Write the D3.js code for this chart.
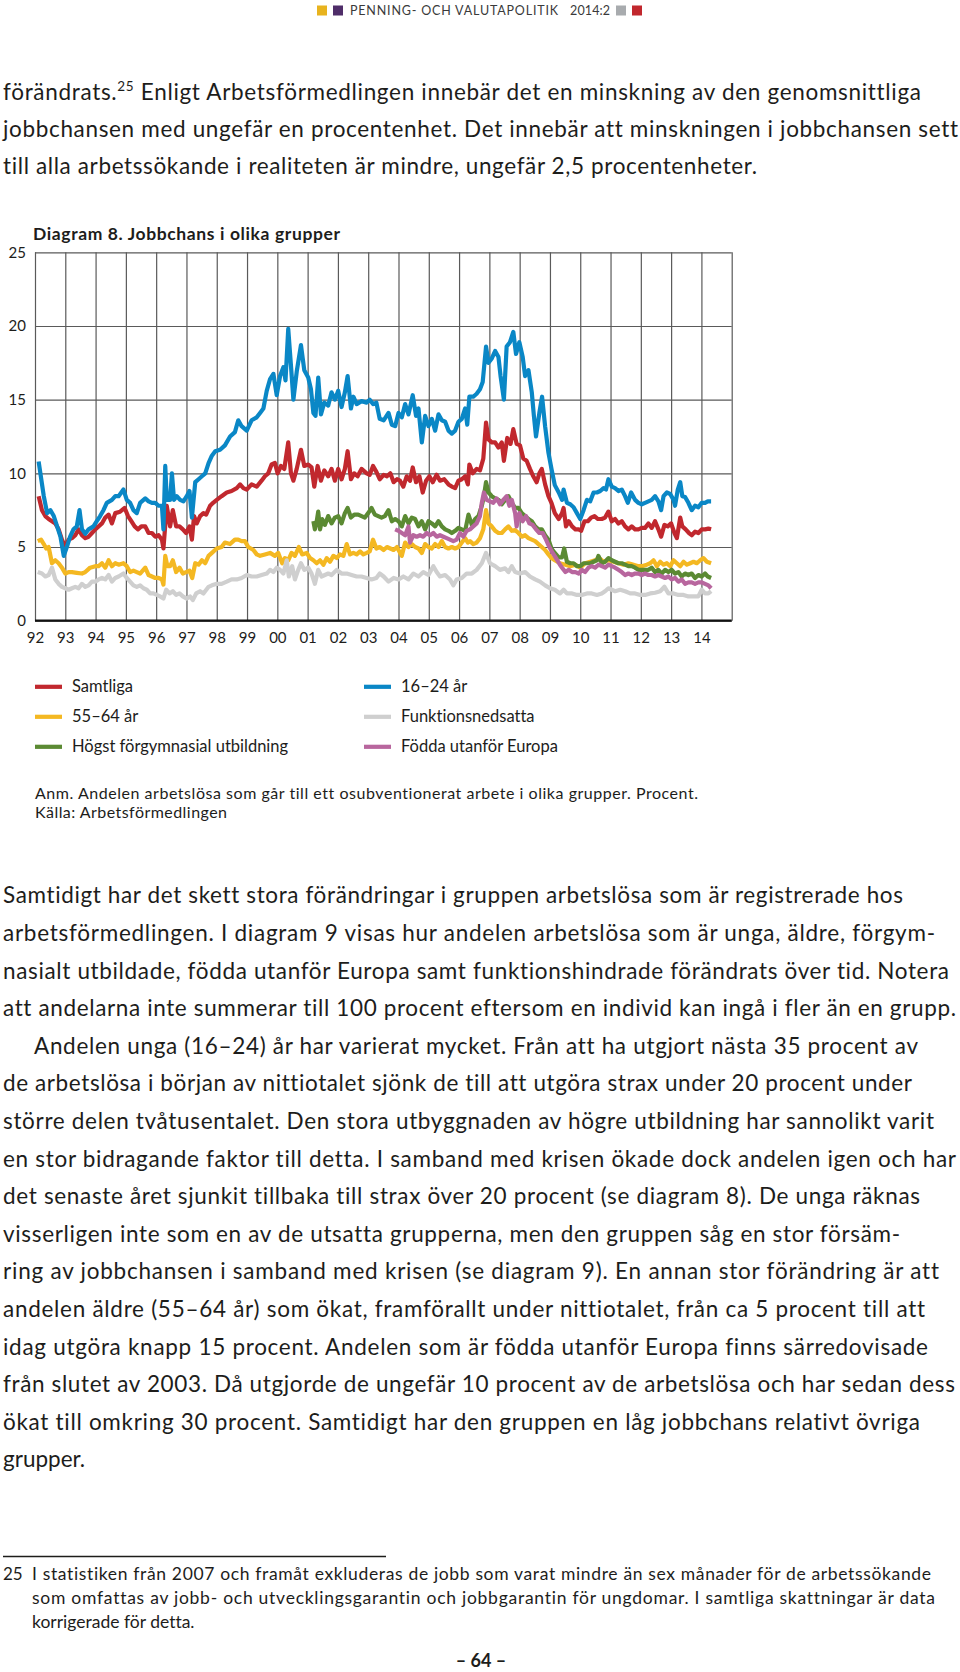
<!DOCTYPE html>
<html lang="sv">
<head>
<meta charset="UTF-8">
<title>Jobbchans i olika grupper</title>
<script src="https://cdn.jsdelivr.net/npm/d3@7"></script>
<style>
  body { margin: 0; background: #fff; }
  svg text {
    font-family: Lato, "Open Sans", sans-serif;
    fill: #1d1d1b;
    font-variant-ligatures: none;
    font-feature-settings: "liga" 0, "clig" 0, "dlig" 0;
  }
</style>
</head>
<body>
<div id="page"></div>
<script>
// ---- chart data (decimal year, percent) ----
const samtliga = [[1992.12,8.45],[1992.23,7.5],[1992.34,7.1],[1992.45,6.9],[1992.56,6.75],[1992.67,6.6],[1992.78,6.2],[1992.89,5.5],[1993.00,5.0],[1993.11,5.5],[1993.22,5.6],[1993.33,5.8],[1993.44,6.2],[1993.55,5.8],[1993.66,5.6],[1993.77,5.7],[1993.88,5.95],[1993.99,6.2],[1994.10,6.4],[1994.21,6.6],[1994.32,7.0],[1994.43,7.2],[1994.54,6.6],[1994.65,7.3],[1994.81,7.4],[1994.96,7.65],[1995.07,7.1],[1995.18,6.75],[1995.29,6.4],[1995.40,6.2],[1995.51,6.4],[1995.64,6.4],[1995.75,5.95],[1995.86,5.95],[1995.97,5.7],[1996.08,5.8],[1996.19,5.5],[1996.24,4.9],[1996.35,7.8],[1996.46,6.4],[1996.55,7.5],[1996.66,6.4],[1996.77,6.4],[1996.88,6.2],[1996.99,5.95],[1997.10,6.4],[1997.18,5.5],[1997.25,7.1],[1997.34,6.6],[1997.45,7.1],[1997.56,7.3],[1997.65,7.2],[1997.78,7.8],[1997.88,8.0],[1998.00,8.2],[1998.16,8.45],[1998.33,8.7],[1998.49,8.8],[1998.66,9.0],[1998.77,9.25],[1998.88,9.0],[1998.99,8.9],[1999.15,9.25],[1999.32,9.1],[1999.48,9.5],[1999.59,9.8],[1999.70,10.0],[1999.81,10.6],[1999.92,10.7],[2000.01,10.0],[2000.12,10.5],[2000.23,10.3],[2000.36,12.1],[2000.45,10.0],[2000.53,9.5],[2000.64,10.3],[2000.78,11.6],[2000.89,10.5],[2001.02,10.6],[2001.13,10.4],[2001.22,9.1],[2001.33,10.5],[2001.44,9.5],[2001.55,10.2],[2001.68,9.8],[2001.79,10.3],[2001.90,9.5],[2002.01,10.3],[2002.12,9.6],[2002.23,10.3],[2002.32,11.5],[2002.43,9.6],[2002.54,10.0],[2002.65,9.8],[2002.78,10.3],[2002.95,10.0],[2003.05,9.9],[2003.16,10.5],[2003.27,10.1],[2003.38,9.6],[2003.51,9.9],[2003.62,9.8],[2003.73,10.0],[2003.84,9.4],[2003.95,9.6],[2004.05,9.5],[2004.16,9.1],[2004.27,9.8],[2004.38,9.5],[2004.47,10.4],[2004.58,9.4],[2004.69,9.8],[2004.80,8.7],[2004.91,9.5],[2005.02,9.8],[2005.13,9.4],[2005.26,9.9],[2005.37,9.5],[2005.51,9.6],[2005.65,9.25],[2005.76,9.1],[2005.87,9.0],[2005.98,9.5],[2006.09,9.6],[2006.20,9.8],[2006.29,9.25],[2006.34,10.6],[2006.45,10.0],[2006.58,10.3],[2006.69,10.2],[2006.80,11.0],[2006.89,13.45],[2006.97,12.3],[2007.08,12.1],[2007.19,12.1],[2007.30,11.75],[2007.41,12.1],[2007.48,10.85],[2007.59,12.4],[2007.70,12.0],[2007.79,13.0],[2007.90,12.0],[2008.01,11.9],[2008.12,11.0],[2008.23,10.85],[2008.34,10.3],[2008.45,9.8],[2008.56,9.4],[2008.65,10.0],[2008.73,10.3],[2008.84,9.25],[2008.95,8.45],[2009.05,8.0],[2009.16,7.3],[2009.29,6.9],[2009.40,7.3],[2009.45,7.65],[2009.53,6.4],[2009.62,6.75],[2009.73,6.4],[2009.84,6.2],[2009.95,6.2],[2010.03,6.1],[2010.14,6.75],[2010.25,6.75],[2010.36,7.0],[2010.47,7.1],[2010.58,6.9],[2010.71,6.9],[2010.82,7.0],[2010.93,7.4],[2011.04,6.75],[2011.15,6.9],[2011.26,6.6],[2011.37,6.75],[2011.48,6.4],[2011.59,6.2],[2011.70,6.4],[2011.81,6.2],[2011.92,6.2],[2012.03,6.3],[2012.14,6.3],[2012.25,6.6],[2012.36,6.3],[2012.47,6.75],[2012.58,6.2],[2012.67,5.7],[2012.78,6.5],[2012.89,6.4],[2013.00,6.6],[2013.11,5.95],[2013.19,5.6],[2013.30,7.0],[2013.37,6.4],[2013.48,6.2],[2013.59,5.95],[2013.68,5.8],[2013.79,6.05],[2013.90,5.95],[2014.01,6.2],[2014.12,6.2],[2014.23,6.25],[2014.32,6.2]];

const unga = [[1992.12,10.8],[1992.29,8.45],[1992.40,7.3],[1992.51,7.5],[1992.62,7.1],[1992.73,6.4],[1992.84,5.7],[1992.95,4.4],[1993.05,5.0],[1993.16,5.7],[1993.27,6.2],[1993.38,6.4],[1993.47,7.5],[1993.55,6.2],[1993.66,5.9],[1993.77,6.2],[1993.93,6.4],[1994.04,6.75],[1994.15,7.1],[1994.26,7.5],[1994.37,8.0],[1994.54,8.2],[1994.65,8.45],[1994.76,8.45],[1994.92,8.9],[1995.03,8.2],[1995.14,8.0],[1995.25,7.5],[1995.36,7.3],[1995.47,8.0],[1995.64,8.3],[1995.75,8.1],[1995.86,8.0],[1995.97,8.0],[1996.08,7.8],[1996.19,7.8],[1996.24,6.2],[1996.30,10.5],[1996.35,8.2],[1996.46,8.2],[1996.52,10.0],[1996.59,8.2],[1996.68,8.45],[1996.79,8.2],[1996.90,8.1],[1997.01,8.45],[1997.10,8.8],[1997.18,7.0],[1997.29,9.4],[1997.40,9.6],[1997.51,9.8],[1997.62,10.0],[1997.73,10.7],[1997.84,11.2],[1997.95,11.5],[1998.11,11.6],[1998.27,11.9],[1998.44,12.5],[1998.60,12.8],[1998.71,13.6],[1998.82,13.2],[1998.99,12.9],[1999.15,13.6],[1999.32,13.8],[1999.43,14.1],[1999.54,14.4],[1999.65,15.6],[1999.76,16.4],[1999.87,16.75],[1999.98,15.3],[2000.09,16.6],[2000.20,17.2],[2000.27,16.3],[2000.36,19.8],[2000.45,17.3],[2000.53,15.0],[2000.64,16.9],[2000.78,18.7],[2000.89,17.0],[2001.02,16.5],[2001.11,15.7],[2001.19,14.1],[2001.26,13.9],[2001.35,16.5],[2001.44,14.0],[2001.55,14.8],[2001.68,14.6],[2001.79,15.5],[2001.90,15.0],[2002.01,15.6],[2002.12,14.5],[2002.23,15.5],[2002.32,16.6],[2002.43,14.4],[2002.51,15.2],[2002.62,14.7],[2002.78,14.9],[2002.95,14.8],[2003.05,15.0],[2003.16,14.7],[2003.27,14.8],[2003.38,13.7],[2003.51,13.6],[2003.67,14.1],[2003.78,13.3],[2003.89,13.2],[2004.00,14.1],[2004.11,13.8],[2004.22,14.7],[2004.33,14.0],[2004.47,15.3],[2004.58,13.9],[2004.66,14.4],[2004.77,12.1],[2004.88,13.9],[2004.99,13.2],[2005.10,13.7],[2005.21,12.9],[2005.32,14.0],[2005.43,13.6],[2005.54,13.5],[2005.65,12.9],[2005.76,12.7],[2005.87,12.9],[2005.98,13.5],[2006.09,13.7],[2006.20,14.4],[2006.27,13.3],[2006.34,15.2],[2006.47,15.2],[2006.58,15.4],[2006.69,15.7],[2006.78,16.2],[2006.89,18.6],[2006.97,17.5],[2007.08,17.8],[2007.19,18.3],[2007.30,17.9],[2007.37,16.6],[2007.48,15.0],[2007.57,18.6],[2007.68,18.9],[2007.79,19.6],[2007.88,18.1],[2007.99,18.9],[2008.10,17.9],[2008.18,16.6],[2008.29,17.0],[2008.40,15.5],[2008.47,13.9],[2008.54,12.5],[2008.65,14.1],[2008.74,15.2],[2008.84,13.2],[2008.95,11.4],[2009.05,10.3],[2009.16,9.2],[2009.29,8.7],[2009.40,8.2],[2009.45,8.9],[2009.56,8.0],[2009.67,7.9],[2009.78,7.7],[2009.89,7.3],[2010.00,6.9],[2010.11,7.5],[2010.22,8.2],[2010.33,8.1],[2010.44,8.7],[2010.55,8.7],[2010.66,8.8],[2010.77,9.0],[2010.85,8.9],[2010.93,9.6],[2011.04,9.1],[2011.15,9.0],[2011.26,8.8],[2011.37,8.9],[2011.48,8.45],[2011.57,8.0],[2011.68,8.7],[2011.81,8.2],[2011.92,8.0],[2012.03,7.9],[2012.14,8.0],[2012.25,8.1],[2012.36,8.2],[2012.47,8.45],[2012.58,8.1],[2012.67,7.5],[2012.75,8.45],[2012.86,8.7],[2012.97,8.6],[2013.08,8.2],[2013.13,7.8],[2013.22,8.9],[2013.30,9.4],[2013.37,8.45],[2013.46,8.4],[2013.57,8.0],[2013.68,7.5],[2013.79,7.8],[2013.90,7.7],[2014.01,8.0],[2014.12,8.0],[2014.21,8.1],[2014.32,8.1]];

const aldre = [[1992.09,5.4],[1992.20,5.5],[1992.29,5.2],[1992.37,4.9],[1992.45,5.0],[1992.56,3.9],[1992.67,4.1],[1992.78,3.9],[1992.89,3.6],[1993.00,3.2],[1993.11,3.3],[1993.22,3.3],[1993.38,3.25],[1993.55,3.2],[1993.66,3.3],[1993.82,3.6],[1993.99,3.7],[1994.10,3.7],[1994.21,3.9],[1994.32,3.6],[1994.43,4.1],[1994.54,3.7],[1994.65,3.9],[1994.76,3.8],[1994.92,3.9],[1995.03,3.7],[1995.14,3.3],[1995.25,3.4],[1995.36,3.3],[1995.47,3.2],[1995.64,3.6],[1995.75,3.1],[1995.86,3.0],[1995.97,2.9],[1996.08,2.9],[1996.19,2.8],[1996.24,2.45],[1996.30,4.4],[1996.37,3.7],[1996.46,3.7],[1996.55,4.1],[1996.66,3.3],[1996.77,3.6],[1996.88,3.2],[1996.99,3.3],[1997.10,3.4],[1997.19,2.9],[1997.29,3.9],[1997.40,3.8],[1997.51,4.1],[1997.62,3.9],[1997.73,4.4],[1997.84,4.6],[1998.00,4.9],[1998.16,5.0],[1998.27,5.3],[1998.44,5.2],[1998.60,5.5],[1998.71,5.5],[1998.82,5.4],[1998.93,5.4],[1999.04,5.0],[1999.21,4.8],[1999.32,4.5],[1999.43,4.4],[1999.59,4.5],[1999.76,4.6],[1999.92,4.4],[2000.03,4.6],[2000.16,3.9],[2000.25,4.25],[2000.36,4.1],[2000.47,4.6],[2000.58,4.4],[2000.71,5.0],[2000.82,4.5],[2000.97,4.6],[2001.08,4.25],[2001.19,4.1],[2001.30,3.9],[2001.41,4.1],[2001.52,3.8],[2001.63,4.25],[2001.74,4.0],[2001.85,4.4],[2001.96,4.25],[2002.07,4.5],[2002.18,4.4],[2002.29,5.2],[2002.40,4.5],[2002.51,4.6],[2002.62,4.5],[2002.73,4.7],[2002.84,4.5],[2002.95,4.6],[2003.05,4.7],[2003.16,5.5],[2003.27,4.9],[2003.38,5.0],[2003.51,4.8],[2003.62,5.0],[2003.73,4.9],[2003.84,4.8],[2003.95,5.0],[2004.05,4.6],[2004.11,4.4],[2004.22,5.3],[2004.33,5.0],[2004.44,5.2],[2004.55,5.0],[2004.66,4.9],[2004.77,4.6],[2004.88,5.2],[2004.99,5.0],[2005.10,4.9],[2005.21,5.2],[2005.32,5.0],[2005.43,5.4],[2005.54,5.0],[2005.65,4.9],[2005.76,5.0],[2005.87,4.9],[2005.98,5.0],[2006.09,5.3],[2006.20,5.6],[2006.29,5.3],[2006.36,5.4],[2006.47,5.2],[2006.58,5.3],[2006.69,5.6],[2006.80,6.2],[2006.89,7.5],[2006.97,6.6],[2007.08,6.4],[2007.19,6.1],[2007.30,5.95],[2007.41,5.95],[2007.52,6.2],[2007.63,6.4],[2007.74,6.1],[2007.85,6.15],[2007.96,5.95],[2008.07,5.7],[2008.18,5.8],[2008.29,5.6],[2008.40,5.5],[2008.51,5.4],[2008.62,5.2],[2008.73,5.0],[2008.84,4.8],[2008.95,4.5],[2009.05,4.25],[2009.16,4.1],[2009.33,3.9],[2009.51,3.8],[2009.67,3.7],[2009.84,3.8],[2010.00,3.6],[2010.16,3.9],[2010.33,4.0],[2010.49,4.1],[2010.63,4.25],[2010.77,4.0],[2010.93,4.1],[2011.10,4.0],[2011.26,3.9],[2011.43,3.8],[2011.59,3.9],[2011.76,3.8],[2011.92,3.7],[2012.03,3.7],[2012.20,3.8],[2012.31,3.9],[2012.42,4.1],[2012.53,3.7],[2012.64,4.0],[2012.75,3.8],[2012.86,3.9],[2012.97,3.7],[2013.08,4.1],[2013.19,3.9],[2013.30,3.7],[2013.41,4.0],[2013.52,3.8],[2013.63,3.9],[2013.74,4.0],[2013.85,3.9],[2013.96,4.1],[2014.07,4.25],[2014.18,4.0],[2014.32,3.9]];

const funktion = [[1992.09,3.3],[1992.23,3.2],[1992.34,3.0],[1992.45,3.1],[1992.56,3.6],[1992.67,2.8],[1992.78,2.5],[1992.89,2.3],[1993.00,2.2],[1993.11,2.1],[1993.22,2.2],[1993.33,2.3],[1993.44,2.2],[1993.55,2.5],[1993.66,2.3],[1993.77,2.4],[1993.88,2.65],[1993.99,2.65],[1994.10,2.8],[1994.21,2.9],[1994.32,2.8],[1994.43,3.1],[1994.54,2.65],[1994.65,2.9],[1994.76,3.0],[1994.92,3.2],[1995.03,2.9],[1995.14,2.65],[1995.25,2.4],[1995.36,2.3],[1995.47,2.4],[1995.58,2.2],[1995.69,2.1],[1995.80,1.85],[1995.91,1.85],[1996.02,1.75],[1996.13,1.65],[1996.24,1.5],[1996.33,2.1],[1996.44,1.85],[1996.55,2.0],[1996.66,1.75],[1996.77,1.85],[1996.88,1.65],[1997.01,1.5],[1997.12,1.65],[1997.21,1.4],[1997.32,1.85],[1997.45,2.0],[1997.56,1.85],[1997.73,2.3],[1997.84,2.4],[1998.00,2.5],[1998.16,2.5],[1998.33,2.65],[1998.49,2.8],[1998.66,2.8],[1998.82,2.9],[1998.99,3.1],[1999.15,3.0],[1999.32,3.0],[1999.48,3.1],[1999.65,3.2],[1999.76,3.45],[1999.87,3.3],[1999.98,3.6],[2000.09,3.45],[2000.20,3.2],[2000.31,4.1],[2000.38,3.0],[2000.49,3.7],[2000.58,2.8],[2000.69,3.45],[2000.78,3.9],[2000.89,3.45],[2001.02,3.6],[2001.13,3.2],[2001.24,2.5],[2001.35,3.45],[2001.46,3.0],[2001.57,3.1],[2001.68,3.2],[2001.79,3.1],[2001.96,3.45],[2002.12,3.2],[2002.29,3.2],[2002.45,3.1],[2002.62,3.0],[2002.78,3.0],[2002.95,2.9],[2003.11,2.8],[2003.27,2.9],[2003.38,3.2],[2003.51,3.0],[2003.67,2.65],[2003.84,2.9],[2004.00,2.8],[2004.16,3.0],[2004.33,2.8],[2004.49,3.2],[2004.66,3.0],[2004.82,3.3],[2004.99,3.1],[2005.15,3.7],[2005.26,3.3],[2005.37,3.0],[2005.54,3.1],[2005.70,2.8],[2005.81,2.4],[2005.92,2.8],[2006.09,2.9],[2006.25,3.2],[2006.42,3.2],[2006.58,3.45],[2006.75,3.9],[2006.89,4.6],[2007.02,3.9],[2007.19,3.7],[2007.35,3.45],[2007.52,3.55],[2007.63,3.3],[2007.74,3.7],[2007.85,3.3],[2008.01,3.2],[2008.18,3.3],[2008.34,3.0],[2008.51,2.8],[2008.67,2.65],[2008.84,2.4],[2009.00,2.2],[2009.16,2.1],[2009.33,1.85],[2009.45,2.1],[2009.56,1.85],[2009.73,1.85],[2009.89,1.75],[2010.05,1.75],[2010.22,1.85],[2010.38,1.85],[2010.55,1.75],[2010.71,1.85],[2010.82,2.0],[2010.93,2.2],[2011.04,2.1],[2011.15,2.0],[2011.32,2.1],[2011.48,2.0],[2011.65,1.85],[2011.81,1.85],[2011.98,1.75],[2012.14,1.75],[2012.31,1.85],[2012.47,1.9],[2012.64,2.0],[2012.78,2.3],[2012.91,1.85],[2013.08,1.85],[2013.24,1.75],[2013.41,1.75],[2013.57,1.65],[2013.74,1.65],[2013.90,1.65],[2014.01,2.1],[2014.12,1.85],[2014.23,1.85],[2014.32,2.0]];

const forgymnasial = [[2001.19,6.75],[2001.24,6.2],[2001.30,6.75],[2001.35,7.4],[2001.41,6.2],[2001.48,6.9],[2001.57,6.5],[2001.68,7.1],[2001.79,6.6],[2001.90,7.0],[2002.01,7.1],[2002.12,6.6],[2002.23,7.3],[2002.32,7.65],[2002.43,7.0],[2002.54,7.2],[2002.67,7.2],[2002.78,7.1],[2002.89,7.0],[2003.00,7.3],[2003.11,7.65],[2003.22,7.2],[2003.33,7.1],[2003.44,7.0],[2003.55,7.1],[2003.67,7.5],[2003.78,6.75],[2003.89,6.9],[2004.00,6.75],[2004.11,6.4],[2004.22,7.1],[2004.33,6.6],[2004.44,7.0],[2004.55,6.9],[2004.66,6.4],[2004.77,6.75],[2004.88,6.2],[2004.99,6.75],[2005.10,6.6],[2005.21,6.4],[2005.32,6.75],[2005.43,6.4],[2005.54,6.2],[2005.65,6.1],[2005.76,5.95],[2005.87,6.1],[2005.98,6.3],[2006.09,6.2],[2006.20,6.1],[2006.31,7.2],[2006.42,6.5],[2006.53,6.9],[2006.64,7.1],[2006.75,7.8],[2006.82,8.45],[2006.89,9.4],[2006.97,8.7],[2007.08,8.45],[2007.19,8.3],[2007.30,8.2],[2007.41,7.9],[2007.52,8.2],[2007.63,8.45],[2007.74,8.0],[2007.85,7.65],[2007.96,7.65],[2008.07,7.3],[2008.18,7.1],[2008.29,6.9],[2008.40,6.75],[2008.51,6.4],[2008.62,6.2],[2008.73,6.2],[2008.84,5.8],[2008.95,5.5],[2009.05,4.9],[2009.16,4.6],[2009.29,4.3],[2009.40,4.3],[2009.47,4.9],[2009.56,4.0],[2009.67,3.9],[2009.78,3.9],[2009.89,3.7],[2010.00,3.7],[2010.11,3.9],[2010.22,3.9],[2010.33,3.9],[2010.44,4.0],[2010.55,4.1],[2010.60,4.4],[2010.71,3.9],[2010.82,4.0],[2010.93,4.25],[2011.04,4.1],[2011.15,4.0],[2011.26,3.9],[2011.37,3.9],[2011.48,3.8],[2011.59,3.7],[2011.70,3.7],[2011.81,3.6],[2011.92,3.45],[2012.03,3.45],[2012.14,3.45],[2012.25,3.45],[2012.36,3.6],[2012.47,3.3],[2012.58,3.45],[2012.69,3.2],[2012.80,3.45],[2012.91,3.3],[2013.02,3.45],[2013.13,3.2],[2013.24,3.3],[2013.35,3.0],[2013.46,3.2],[2013.57,3.1],[2013.68,3.2],[2013.79,2.9],[2013.90,3.1],[2014.01,3.0],[2014.12,3.2],[2014.21,3.0],[2014.32,2.9]];

const foddaUtanfor = [[2003.89,6.2],[2004.00,6.1],[2004.11,5.95],[2004.22,5.8],[2004.33,6.4],[2004.38,5.3],[2004.49,5.8],[2004.60,5.7],[2004.71,5.8],[2004.82,5.7],[2004.93,5.95],[2005.04,5.8],[2005.15,5.95],[2005.26,5.7],[2005.37,5.8],[2005.48,5.7],[2005.59,5.6],[2005.70,5.5],[2005.81,5.4],[2005.92,5.5],[2006.03,5.95],[2006.14,5.7],[2006.25,6.1],[2006.36,6.2],[2006.47,6.4],[2006.58,6.6],[2006.69,7.1],[2006.75,8.0],[2006.82,8.7],[2006.91,8.2],[2007.02,8.1],[2007.13,8.0],[2007.24,8.3],[2007.35,7.9],[2007.46,8.2],[2007.57,8.45],[2007.66,7.8],[2007.74,8.2],[2007.85,7.3],[2007.90,6.4],[2007.99,7.3],[2008.10,6.75],[2008.21,7.1],[2008.32,6.6],[2008.43,6.5],[2008.54,6.2],[2008.65,5.95],[2008.76,5.95],[2008.87,5.5],[2008.98,5.0],[2009.09,4.6],[2009.20,4.25],[2009.33,3.8],[2009.40,3.6],[2009.51,3.3],[2009.62,3.45],[2009.73,3.3],[2009.84,3.3],[2009.95,3.2],[2010.05,3.45],[2010.16,3.3],[2010.27,3.6],[2010.38,3.7],[2010.49,3.6],[2010.60,3.8],[2010.71,3.7],[2010.82,3.6],[2010.93,3.8],[2011.04,3.7],[2011.15,3.6],[2011.26,3.45],[2011.37,3.3],[2011.48,3.1],[2011.59,3.2],[2011.70,3.1],[2011.81,3.2],[2011.92,3.2],[2012.03,3.1],[2012.14,3.2],[2012.25,3.1],[2012.36,3.1],[2012.47,3.0],[2012.58,3.1],[2012.69,3.0],[2012.80,2.9],[2012.91,3.0],[2013.02,2.8],[2013.13,2.9],[2013.24,2.65],[2013.35,2.8],[2013.46,2.5],[2013.57,2.6],[2013.68,2.6],[2013.79,2.5],[2013.90,2.6],[2014.01,2.6],[2014.12,2.5],[2014.23,2.4],[2014.32,2.2]];

const seriesLabels = ["Samtliga", "16–24 år", "55–64 år", "Funktionsnedsatta", "Högst förgymnasial utbildning", "Födda utanför Europa"];
const seriesData = [samtliga, unga, aldre, funktion, forgymnasial, foddaUtanfor];
const seriesColors = ["#c1282e", "#0a87c6", "#f4b822", "#cfcfcf", "#5b8a33", "#b8669e"];

const xTickYears = d3.range(1992, 2015);
const xTickLabels = ["92","93","94","95","96","97","98","99","00","01","02","03","04","05","06","07","08","09","10","11","12","13","14"];
const yTicks = [0, 5, 10, 15, 20, 25];

// ---- page text ----
const para1 = [
  ["förändrats.|25| Enligt Arbetsförmedlingen innebär det en minskning av den genomsnittliga", 921],
  ["jobbchansen med ungefär en procentenhet. Det innebär att minskningen i jobbchansen sett", 958],
  ["till alla arbetssökande i realiteten är mindre, ungefär 2,5 procentenheter.", 757]
];
const para2 = [
  ["Samtidigt har det skett stora förändringar i gruppen arbetslösa som är registrerade hos", 903],
  ["arbetsförmedlingen. I diagram 9 visas hur andelen arbetslösa som är unga, äldre, förgym-", 935],
  ["nasialt utbildade, födda utanför Europa samt funktionshindrade förändrats över tid. Notera", 949],
  ["att andelarna inte summerar till 100 procent eftersom en individ kan ingå i fler än en grupp.", 956],
  ["Andelen unga (16–24) år har varierat mycket. Från att ha utgjort nästa 35 procent av", 918],
  ["de arbetslösa i början av nittiotalet sjönk de till att utgöra strax under 20 procent under", 912],
  ["större delen tvåtusentalet. Den stora utbyggnaden av högre utbildning har sannolikt varit", 934],
  ["en stor bidragande faktor till detta. I samband med krisen ökade dock andelen igen och har", 956],
  ["det senaste året sjunkit tillbaka till strax över 20 procent (se diagram 8). De unga räknas", 920],
  ["visserligen inte som en av de utsatta grupperna, men den gruppen såg en stor försäm-", 900],
  ["ring av jobbchansen i samband med krisen (se diagram 9). En annan stor förändring är att", 939],
  ["andelen äldre (55–64 år) som ökat, framförallt under nittiotalet, från ca 5 procent till att", 925],
  ["idag utgöra knapp 15 procent. Andelen som är födda utanför Europa finns särredovisade", 928],
  ["från slutet av 2003. Då utgjorde de ungefär 10 procent av de arbetslösa och har sedan dess", 955],
  ["ökat till omkring 30 procent. Samtidigt har den gruppen en låg jobbchans relativt övriga", 920],
  ["grupper.", null]
];
const footnote = [
  ["I statistiken från 2007 och framåt exkluderas de jobb som varat mindre än sex månader för de arbetssökande", 931],
  ["som omfattas av jobb- och utvecklingsgarantin och jobbgarantin för ungdomar. I samtliga skattningar är data", 935],
  ["korrigerade för detta.", null]
];

const width = 960, height = 1672;
const svg = d3.select("#page").append("svg")
    .attr("width", width)
    .attr("height", height);
svg.append("rect").attr("width", width).attr("height", height).attr("fill", "#fff");

// write one line, stretched (spacing only) so it ends where the original does
function line(g, x, y, str, size, right, weight) {
    const t = g.append("text")
        .attr("x", x).attr("y", y)
        .attr("font-size", size)
        .attr("font-weight", weight || 400);
    str.split("|").forEach(function (part, i) {
        if (i === 1) {
            t.append("tspan").attr("font-size", size * 0.6).attr("dy", -size * 0.38).text(part);
        } else if (i === 2) {
            t.append("tspan").attr("dy", size * 0.38).text(part);
        } else {
            t.append("tspan").text(part);
        }
    });
    if (right) {
        t.attr("textLength", right - x).attr("lengthAdjust", "spacing");
    }
    return t;
}

// header
const head = svg.append("g");
[["#e8b31e", 317], ["#4f2d69", 333], ["#a8abae", 616], ["#c1272d", 632]].forEach(function (sq) {
    head.append("rect").attr("x", sq[1]).attr("y", 5.5).attr("width", 10).attr("height", 10).attr("fill", sq[0]);
});
line(head, 350, 15, "PENNING- OCH VALUTAPOLITIK", 12.5, 558).style("fill", "#3a3a3a");
line(head, 570, 15, "2014:2", 12.5, 610).style("fill", "#3a3a3a");

// paragraph 1
para1.forEach(function (d, i) {
    line(svg, 3, 100 + i * 36.9, d[0], 22.5, d[1]);
});

// ---- chart ----
const x = d3.scaleLinear().domain([1992, 2015]).range([35, 731.7]);
const y = d3.scaleLinear().domain([0, 25]).range([620.7, 252.3]);

line(svg, 33, 240, "Diagram 8. Jobbchans i olika grupper", 17.5, 340, 700);

const plotH = y(0) - y(25), plotW = x(2015) - x(1992);

svg.append("g")
    .attr("class", "grid")
    .attr("transform", "translate(0," + y(0) + ")")
    .call(d3.axisBottom(x).tickValues(d3.range(1992, 2016)).tickSize(-plotH).tickFormat(""))
    .call(function (g) { g.select(".domain").remove(); });

svg.append("g")
    .attr("class", "grid ylab")
    .attr("transform", "translate(" + x(1992) + ",0)")
    .call(d3.axisLeft(y).tickValues(yTicks).tickSize(-plotW).tickPadding(9))
    .call(function (g) { g.select(".domain").remove(); });

svg.selectAll(".grid line").attr("stroke", "#5a5a5a").attr("stroke-width", 1.2);
svg.selectAll(".ylab text").attr("font-size", 15).attr("font-family", "Lato, sans-serif").attr("fill", "#1d1d1b");

svg.append("g")
    .attr("class", "xlab")
    .attr("transform", "translate(0," + y(0) + ")")
    .call(d3.axisBottom(x).tickValues(xTickYears).tickSize(0).tickPadding(12)
        .tickFormat(function (d, i) { return xTickLabels[i]; }))
    .call(function (g) { g.select(".domain").remove(); })
    .selectAll("text").attr("font-size", 15).attr("font-family", "Lato, sans-serif").attr("fill", "#1d1d1b");

const path = d3.line().x(function (d) { return x(d[0]); }).y(function (d) { return y(d[1]); });

svg.append("g").selectAll("path")
    .data(seriesData)
    .enter().append("path")
    .attr("d", path)
    .attr("fill", "none")
    .attr("stroke", function (d, i) { return seriesColors[i]; })
    .attr("stroke-width", 4.2)
    .attr("stroke-linejoin", "round");

svg.append("line")
    .attr("x1", x(1992)).attr("x2", x(2015))
    .attr("y1", y(0)).attr("y2", y(0))
    .attr("stroke", "#111").attr("stroke-width", 2.2);

// legend
const legend = svg.append("g").selectAll("g")
    .data(seriesLabels)
    .enter().append("g")
    .attr("transform", function (d, i) {
        const col = (i % 2 === 0) ? 35 : 364;
        return "translate(" + col + "," + (686.7 + Math.floor(i / 2) * 30) + ")";
    });
legend.append("rect")
    .attr("y", -2).attr("width", 27).attr("height", 4.2)
    .attr("fill", function (d, i) { return seriesColors[i]; });
legend.append("text")
    .attr("x", 37).attr("y", 5.5)
    .attr("font-size", 16.5)
    .text(function (d) { return d; });

line(svg, 35, 799, "Anm. Andelen arbetslösa som går till ett osubventionerat arbete i olika grupper. Procent.", 16, 698);
line(svg, 35, 818, "Källa: Arbetsförmedlingen", 16, 227);

// paragraph 2
para2.forEach(function (d, i) {
    const indent = (i === 4) ? 34 : 3;
    line(svg, indent, 903.3 + i * 37.6, d[0], 22.5, d[1]);
});

// footnote
svg.append("line").attr("x1", 3).attr("x2", 386).attr("y1", 1556.5).attr("y2", 1556.5)
    .attr("stroke", "#1d1d1b").attr("stroke-width", 1.3);
line(svg, 3, 1580, "25", 17, null);
footnote.forEach(function (d, i) {
    line(svg, 32, 1580 + i * 24, d[0], 17.5, d[1]);
});

svg.append("text")
    .attr("x", 481).attr("y", 1667)
    .attr("text-anchor", "middle")
    .attr("font-size", 18).attr("font-weight", 700)
    .text("– 64 –");
</script>
</body>
</html>
